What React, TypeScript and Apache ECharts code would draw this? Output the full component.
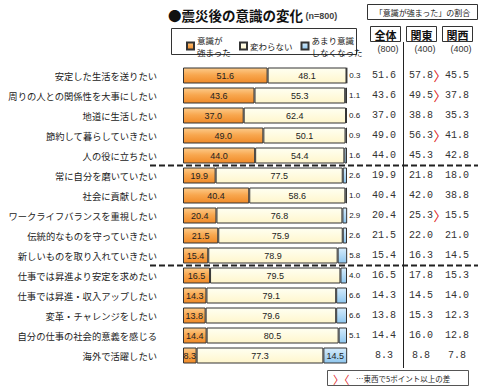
import React, { useEffect, useRef } from 'react';
import * as echarts from 'echarts';

const categories = [
  '安定した生活を送りたい',
  '周りの人との関係性を大事にしたい',
  '地道に生活したい',
  '節約して暮らしていきたい',
  '人の役に立ちたい',
  '常に自分を磨いていたい',
  '社会に貢献したい',
  'ワークライフバランスを重視したい',
  '伝統的なものを守っていきたい',
  '新しいものを取り入れていきたい',
  '仕事では昇進より安定を求めたい',
  '仕事では昇進・収入アップしたい',
  '変革・チャレンジをしたい',
  '自分の仕事の社会的意義を感じる',
  '海外で活躍したい',
];
const seriesNames = ['意識が強まった', '変わらない', 'あまり意識しなくなった'];
const legendLabels = ['意識が\n強まった', '変わらない', 'あまり意識\nしなくなった'];
const strengthened = [51.6, 43.6, 37.0, 49.0, 44.0, 19.9, 40.4, 20.4, 21.5, 15.4, 16.5, 14.3, 13.8, 14.4, 8.3];
const unchanged = [48.1, 55.3, 62.4, 50.1, 54.4, 77.5, 58.6, 76.8, 75.9, 78.9, 79.5, 79.1, 79.6, 80.5, 77.3];
const weakened = [0.3, 1.1, 0.6, 0.9, 1.6, 2.6, 1.0, 2.9, 2.6, 5.8, 4.0, 6.6, 6.6, 5.1, 14.5];
const overall = [51.6, 43.6, 37.0, 49.0, 44.0, 19.9, 40.4, 20.4, 21.5, 15.4, 16.5, 14.3, 13.8, 14.4, 8.3];
const kanto = [57.8, 49.5, 38.8, 56.3, 45.3, 21.8, 42.0, 25.3, 22.0, 16.3, 17.8, 14.5, 15.3, 16.0, 8.8];
const kansai = [45.5, 37.8, 35.3, 41.8, 42.8, 18.0, 38.8, 15.5, 21.0, 14.5, 15.3, 14.0, 12.3, 12.8, 7.8];
const columnHeads = ['全体', '関東', '関西'];
const sampleSizes = ['(800)', '(400)', '(400)'];
const groupBreaks = [5, 10];
const diffThreshold = 5;

// layout constants
const GRID_LEFT = 183;
const GRID_TOP = 65.5;
const GRID_W = 164;
const ROW_H = 20;
const GRID_H = ROW_H * categories.length;
const GRID_RIGHT_X = GRID_LEFT + GRID_W;
const COL_X = [384, 421, 457];
const MARK_X = 440;

const fmt = (v: number) => v.toFixed(1);

export default function App() {
  const ref = useRef<HTMLDivElement>(null);
  useEffect(() => {
    if (!ref.current) return;
    const chart = echarts.init(ref.current, undefined, { renderer: 'svg' });

    const orange = new echarts.graphic.LinearGradient(0, 0, 0, 1, [
      { offset: 0, color: '#FCCB8C' },
      { offset: 0.45, color: '#F8A850' },
      { offset: 1, color: '#F08A28' },
    ]);
    const beige = new echarts.graphic.LinearGradient(0, 0, 0, 1, [
      { offset: 0, color: '#FFFFF2' },
      { offset: 1, color: '#FFF6CC' },
    ]);
    const blue = new echarts.graphic.LinearGradient(0, 0, 0, 1, [
      { offset: 0, color: '#D6ECFB' },
      { offset: 1, color: '#8FC6EE' },
    ]);

    const valueFont = 'Liberation Mono';
    const rightAxis = (data: string[], margin: number, extra: any = {}) => ({
      type: 'category',
      gridIndex: 0,
      position: 'right',
      inverse: true,
      data,
      axisLine: { show: false },
      axisTick: { show: false },
      splitLine: { show: false },
      axisLabel: {
        margin,
        align: 'center',
        color: '#333',
        fontSize: 10,
        fontFamily: valueFont,
        ...extra,
      },
    });

    const markers = kanto.map((v, i) => (v - kansai[i] >= diffThreshold ? '〉' : ''));

    const graphics: any[] = [];
    // note box top right
    graphics.push({
      type: 'rect', shape: { x: 367.5, y: 4.5, width: 110, height: 15 },
      style: { fill: '#fff', stroke: '#333', lineWidth: 1 },
    });
    graphics.push({
      type: 'text', x: 422.5, y: 12,
      style: { text: '「意識が強まった」の割合', fontSize: 8, fill: '#222', align: 'center', verticalAlign: 'middle', fontFamily: 'Noto Sans CJK JP' },
    });
    // legend box
    graphics.push({
      type: 'rect', shape: { x: 171.5, y: 28.5, width: 185, height: 26 },
      style: { fill: 'none', stroke: '#333', lineWidth: 1 },
    });
    // column header boxes
    columnHeads.forEach((h, i) => {
      graphics.push({
        type: 'rect', shape: { x: COL_X[i] - 14.5 + (i === 0 ? 1 : 0), y: 26.5, width: 30, height: 15 },
        style: { fill: '#fff', stroke: '#333', lineWidth: 1 },
      });
      graphics.push({
        type: 'text', x: COL_X[i] + (i === 0 ? 1 : 0) + 0.5, y: 34.5,
        style: { text: h, fontSize: 11, fontWeight: 'bold', fill: '#111', align: 'center', verticalAlign: 'middle', fontFamily: 'Noto Sans CJK JP' },
      });
      graphics.push({
        type: 'text', x: COL_X[i] + 4, y: 48.5,
        style: { text: sampleSizes[i], fontSize: 9, fill: '#333', align: 'center', verticalAlign: 'middle', fontFamily: 'Liberation Sans' },
      });
    });
    // vertical divider
    graphics.push({
      type: 'line', shape: { x1: 403.5, y1: 42, x2: 403.5, y2: 368 },
      style: { stroke: '#222', lineWidth: 1 },
    });
    // dashed group dividers
    groupBreaks.forEach((b) => {
      const y = GRID_TOP + b * ROW_H;
      graphics.push({
        type: 'line', shape: { x1: 150, y1: y, x2: 478, y2: y },
        style: { stroke: '#222', lineWidth: 2, lineDash: [6, 3] },
        z: 10,
      });
    });
    // bottom legend box
    graphics.push({
      type: 'rect', shape: { x: 327.5, y: 370.5, width: 141, height: 15 },
      style: { fill: '#fff', stroke: '#555', lineWidth: 1 },
    });
    graphics.push({
      type: 'text', x: 333, y: 378.5,
      style: { text: '〉〈', fontSize: 11, fill: '#E0201B', align: 'left', verticalAlign: 'middle', fontFamily: 'Noto Sans CJK JP' },
    });
    graphics.push({
      type: 'text', x: 356, y: 378.5,
      style: { text: '…東西で5ポイント以上の差', fontSize: 7.5, fill: '#222', align: 'left', verticalAlign: 'middle', fontFamily: 'Noto Sans CJK JP' },
    });

    const option: any = {
      animation: false,
      backgroundColor: '#fff',
      textStyle: { fontFamily: 'Noto Sans CJK JP' },
      title: {
        left: 163,
        top: 3,
        text: '{a|●震災後の意識の変化}{b| (n=800)}',
        textStyle: {
          rich: {
            a: { fontSize: 13.5, fontWeight: 'bold', color: '#111', fontFamily: 'Noto Sans CJK JP' },
            b: { fontSize: 9, color: '#444', fontFamily: 'Liberation Sans', padding: [3, 0, 0, 0] },
          },
        },
      },
      legend: {
        left: 181,
        top: 29.5,
        itemWidth: 7,
        itemHeight: 7,
        itemGap: 8,
        icon: 'rect',
        data: seriesNames,
        formatter: (name: string) => legendLabels[seriesNames.indexOf(name)],
        textStyle: { fontSize: 8.5, color: '#222', lineHeight: 11.5, padding: [0, 0, 0, -2] },
        selectedMode: false,
      },
      grid: { left: GRID_LEFT, top: GRID_TOP, width: GRID_W, height: GRID_H, containLabel: false },
      xAxis: { type: 'value', min: 0, max: 100, show: false },
      yAxis: [
        {
          type: 'category',
          inverse: true,
          data: categories,
          axisLine: { show: false },
          axisTick: { show: false },
          axisLabel: { margin: 26, fontSize: 9.3, color: '#222', fontFamily: 'Noto Sans CJK JP' },
        },
        rightAxis(overall.map(fmt), COL_X[0] - GRID_RIGHT_X),
        rightAxis(kanto.map(fmt), COL_X[1] - GRID_RIGHT_X),
        rightAxis(markers, MARK_X - GRID_RIGHT_X, { color: '#E0201B', fontSize: 13, fontFamily: 'Noto Sans CJK JP' }),
        rightAxis(kansai.map(fmt), COL_X[2] - GRID_RIGHT_X),
      ],
      series: [
        {
          name: seriesNames[0],
          type: 'bar',
          stack: 'a',
          barWidth: 16,
          data: strengthened,
          itemStyle: { color: orange, borderColor: '#333', borderWidth: 1 },
          label: { show: true, position: 'inside', formatter: (p: any) => fmt(p.value), fontSize: 9, color: '#222', fontFamily: 'Liberation Sans' },
        },
        {
          name: seriesNames[1],
          type: 'bar',
          stack: 'a',
          barWidth: 16,
          data: unchanged,
          itemStyle: { color: beige, borderColor: '#333', borderWidth: 1 },
          label: { show: true, position: 'inside', formatter: (p: any) => fmt(p.value), fontSize: 9, color: '#222', fontFamily: 'Liberation Sans' },
        },
        {
          name: seriesNames[2],
          type: 'bar',
          stack: 'a',
          barWidth: 16,
          data: weakened.map((v) => ({
            value: v,
            label: v >= 10 ? { position: 'inside', fontSize: 9 } : { position: 'right', distance: 2, fontSize: 8 },
          })),
          itemStyle: { color: blue, borderColor: '#333', borderWidth: 1 },
          label: { show: true, formatter: (p: any) => fmt(p.value), color: '#222', fontFamily: 'Liberation Sans' },
        },
      ],
      graphic: graphics,
    };
    // legend icon colours
    option.color = ['#F8A850', '#FFFBE6', '#A8D4F2'];
    chart.setOption(option);
    return () => chart.dispose();
  }, []);
  return <div ref={ref} style={{ position: 'fixed', left: 0, top: 0, width: 480, height: 387, background: '#fff' }} />;
}
